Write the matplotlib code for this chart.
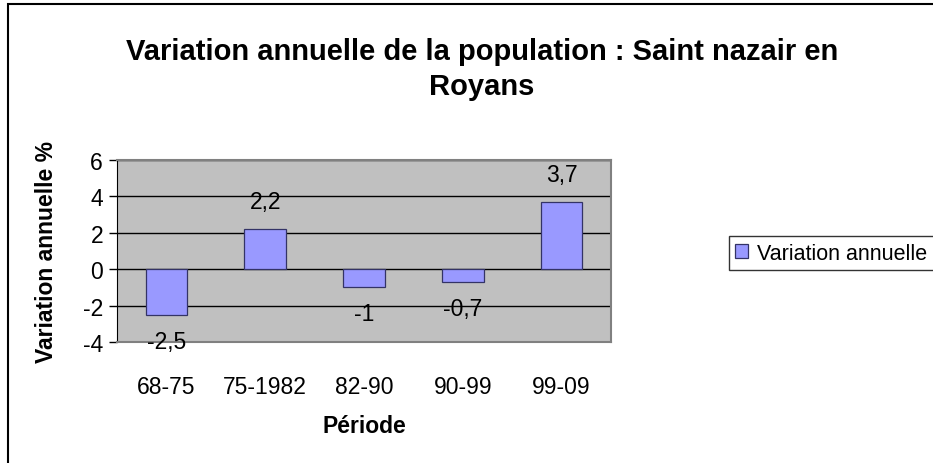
import matplotlib.pyplot as plt
from matplotlib.patches import Rectangle

# donnees
periodes = ["68-75", "75-1982", "82-90", "90-99", "99-09"]
variation = [-2.5, 2.2, -1, -0.7, 3.7]
etiquettes = ["-2,5", "2,2", "-1", "-0,7", "3,7"]
yticks = [-4, -2, 0, 2, 4, 6]

plt.rcParams['font.family'] = ['Liberation Sans', 'DejaVu Sans']
plt.rcParams['axes.unicode_minus'] = False
FS = 16.5

fig = plt.figure(figsize=(9.33, 4.64), dpi=100)
ax = fig.add_axes([117/933, 1-343/464, 494/933, 182/464])

# cadre exterieur
fig.patches.append(Rectangle((8/933, -0.05), 1.0, 1-5/464+0.05,
                             transform=fig.transFigure, fill=False,
                             edgecolor='black', lw=1.5))

ax.set_facecolor('#c0c0c0')
x = list(range(len(periodes)))
bars = ax.bar(x, variation, width=0.42, color='#9999ff', edgecolor='#333366',
              lw=0.9, zorder=3, label="Variation annuelle")
for i, (v, lab) in enumerate(zip(variation, etiquettes)):
    off = 20 if v > 0 else -19
    ax.annotate(lab, (i, v), xytext=(0, off), textcoords='offset points',
                ha='center', va='center', fontsize=FS, zorder=4)

ax.set_xlim(-0.5, 4.5)
ax.set_ylim(-4, 6)
ax.set_yticks(yticks)
ax.set_xticks(x)
ax.set_xticklabels(periodes)
ax.tick_params(axis='y', length=6, width=1, direction='out', labelsize=FS, pad=4)
ax.tick_params(axis='x', length=0, labelsize=FS, pad=24)
ax.yaxis.grid(True, color='black', lw=1, zorder=1)
ax.set_axisbelow(True)
for s in ['top', 'right', 'bottom']:
    ax.spines[s].set_color('#808080')
    ax.spines[s].set_linewidth(1.5)
ax.spines['left'].set_color('black')

ax.set_ylabel("Variation annuelle %", fontsize=FS, fontweight='bold', labelpad=18)
ax.set_xlabel("Période", fontsize=FS, fontweight='bold', labelpad=11)

fig.text(482/933, 1-52/464, "Variation annuelle de la population : Saint nazair en",
         ha='center', va='center', fontsize=21, fontweight='bold')
fig.text(482/933, 1-87/464, "Royans", ha='center', va='center',
         fontsize=21, fontweight='bold')

leg = fig.legend(handles=[bars], loc='center left',
                 bbox_to_anchor=(729/933, 1-254/464), fontsize=15.5,
                 frameon=True, fancybox=False, borderpad=0.3,
                 handlelength=0.6, handleheight=0.6, handletextpad=0.4,
                 borderaxespad=0)
leg.get_frame().set_edgecolor('black')
leg.get_frame().set_linewidth(1)

fig.savefig("out.png", dpi=100)
